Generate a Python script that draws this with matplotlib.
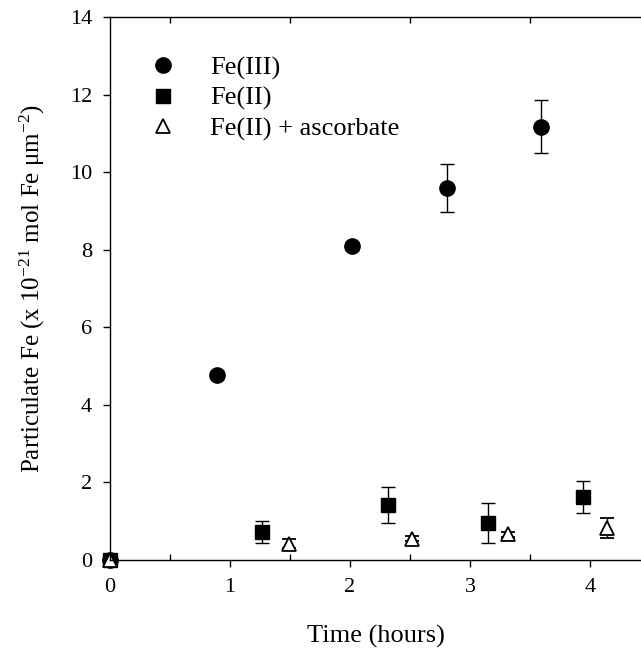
import matplotlib
matplotlib.use("Agg")
import matplotlib.pyplot as plt
from matplotlib.lines import Line2D
from matplotlib.ticker import MultipleLocator

plt.rcParams["font.family"] = ["Liberation Serif", "DejaVu Serif"]
plt.rcParams["mathtext.fontset"] = "custom"
plt.rcParams["mathtext.rm"] = "Liberation Serif"
plt.rcParams["mathtext.it"] = "Liberation Serif:italic"

# Fe(III)
fe3_t = [0.0, 0.89, 2.02, 2.81, 3.59]
fe3_y = [0.0, 4.78, 8.10, 9.60, 11.17]
fe3_err = [0.0, 0.10, 0.10, 0.62, 0.68]

# Fe(II)
fe2_t = [0.0, 1.27, 2.32, 3.15, 3.94]
fe2_y = [0.0, 0.72, 1.42, 0.95, 1.62]
fe2_err = [0.0, 0.28, 0.46, 0.51, 0.42]

# Fe(II) + ascorbate
asc_t = [0.0, 1.49, 2.52, 3.32, 4.14]
asc_y = [0.0, 0.42, 0.55, 0.66, 0.83]
asc_err = [0.0, 0.12, 0.06, 0.06, 0.25]

labels = ["Fe(III)", "Fe(II)", "Fe(II) + ascorbate"]

fig = plt.figure(figsize=(6.41, 6.53), dpi=100)
ax = fig.add_axes([0.1716, 0.1424, 0.8284, 0.8316])

common = dict(linestyle="none", ecolor="black", elinewidth=1.0, capsize=5,
              capthick=1.0, clip_on=False)
styles = [
    dict(marker="o", ms=11, mfc="black", mec="black"),
    dict(marker="s", ms=9.5, mfc="black", mec="black"),
    dict(marker="^", ms=10, mfc="white", mec="black", mew=1.3),
]
series = [(fe3_t, fe3_y, fe3_err), (fe2_t, fe2_y, fe2_err), (asc_t, asc_y, asc_err)]
for (t, y, e), st in zip(series, styles):
    h = ax.errorbar(t, y, yerr=e, **st, **common)
    for art in h.lines[1] + h.lines[2]:
        art.set_clip_on(False)

ax.set_xlim(0, 4.425)
ax.set_ylim(0, 14)
ax.xaxis.set_major_locator(MultipleLocator(1))
ax.xaxis.set_minor_locator(MultipleLocator(0.5))
ax.yaxis.set_major_locator(MultipleLocator(2))

ax.spines["right"].set_visible(False)
for s in ("left", "bottom", "top"):
    ax.spines[s].set_linewidth(1.0)
ax.tick_params(which="major", direction="out", length=5, width=1.0,
               labelsize=16, pad=8, top=False)
ax.tick_params(which="minor", direction="in", length=4, width=1.0,
               top=True, bottom=True)

ax.set_xlabel("Time (hours)", fontsize=19, labelpad=20)
ax.set_ylabel(r"Particulate Fe (x 10$^{-21}$ mol Fe $\mathrm{\mu}$m$^{-2}$)",
              fontsize=18, labelpad=16)

handles = [Line2D([], [], linestyle="none", **st) for st in styles]
ax.legend(handles, labels, loc="upper left", bbox_to_anchor=(0.03, 0.972),
          frameon=False, fontsize=19, handletextpad=1.3, labelspacing=0.25,
          handlelength=1.0)

fig.savefig("out.png", dpi=100)
